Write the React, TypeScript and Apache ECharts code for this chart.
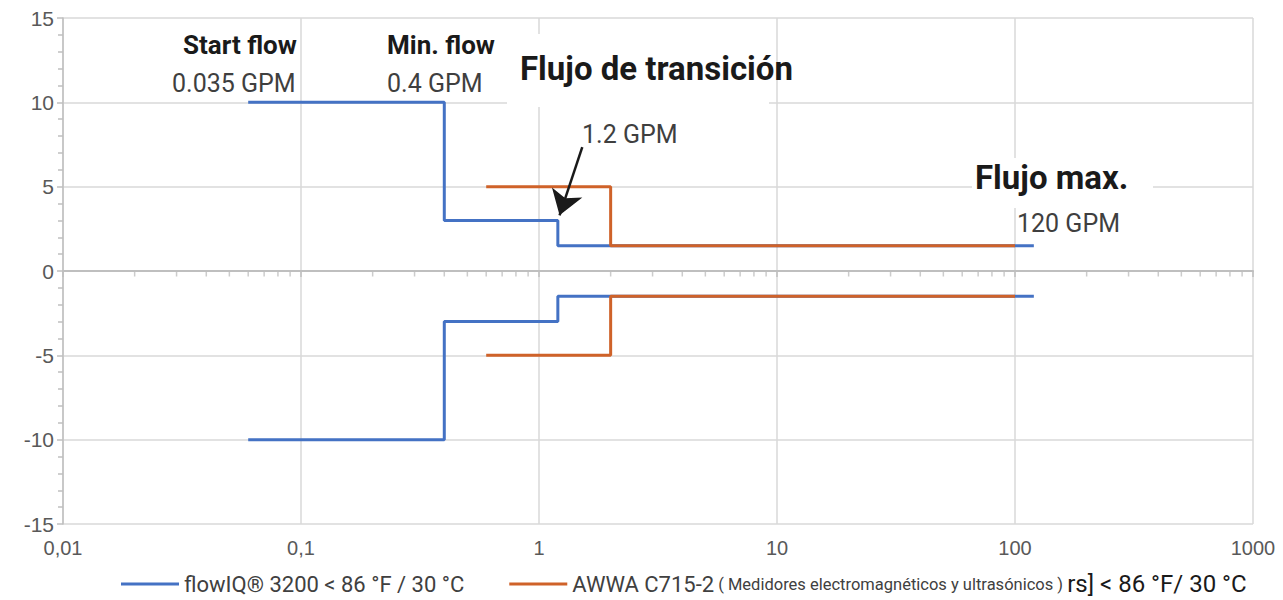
import React, { useEffect, useRef } from "react";
import * as echarts from "echarts";

// ---- data ----
const seriesNames = ["flowIQ® 3200 < 86 °F / 30 °C", "AWWA C715-2"];
const awwaLegendParts = ["AWWA C715-2", " ( Medidores electromagnéticos y ultrasónicos ) ", "rs] < 86 °F/ 30 °C"];

const flowIQUpper: [number, number][] = [[0.06, 10], [0.4, 3], [1.2, 1.5], [120, 1.5]];
const flowIQLower: [number, number][] = [[0.06, -10], [0.4, -3], [1.2, -1.5], [120, -1.5]];
const awwaUpper: [number, number][] = [[0.6, 5], [2, 1.5], [100, 1.5]];
const awwaLower: [number, number][] = [[0.6, -5], [2, -1.5], [100, -1.5]];

const arrowCoords: [number, number][] = [[1.52, 7.35], [1.22, 3.3]];

const minorTickValues = [
  0.02, 0.03, 0.04, 0.05, 0.06, 0.07, 0.08, 0.09,
  0.2, 0.3, 0.4, 0.5, 0.6, 0.7, 0.8, 0.9,
  2, 3, 4, 5, 6, 7, 8, 9,
  20, 30, 40, 50, 60, 70, 80, 90,
  200, 300, 400, 500, 600, 700, 800, 900,
];

const annotations = [
  { text: "Start flow", x: 183, y: 45, bold: true, size: 26 },
  { text: "0.035 GPM", x: 172, y: 83, bold: false, size: 25 },
  { text: "Min. flow", x: 387, y: 45, bold: true, size: 26 },
  { text: "0.4 GPM", x: 387, y: 83, bold: false, size: 25 },
  { text: "Flujo de transición", x: 520, y: 68, bold: true, size: 33 },
  { text: "1.2 GPM", x: 582, y: 134, bold: false, size: 25 },
  { text: "Flujo max.", x: 975, y: 177, bold: true, size: 33 },
  { text: "120 GPM", x: 1017, y: 223, bold: false, size: 25 },
];

const BLUE = "#4472C4";
const ORANGE = "#CF6229";
const GRID = "#D9D9D9";
const AXIS = "#BFBFBF";
const LABEL = "#595959";

export default function App() {
  const ref = useRef<HTMLDivElement>(null);

  useEffect(() => {
    if (!ref.current) return;
    const chart = echarts.init(ref.current, undefined, { renderer: "svg" });

    const lineSeries = (name: string, data: [number, number][], color: string) => ({
      type: "line",
      name,
      data,
      step: "end",
      showSymbol: false,
      symbol: "none",
      lineStyle: { color, width: 3 },
      itemStyle: { color },
      z: 3,
    });

    const graphics: any[] = [
      { type: "rect", shape: { x: 507, y: 34, width: 262, height: 73 }, style: { fill: "#fff" }, z: 50 },
      { type: "rect", shape: { x: 972, y: 158, width: 181, height: 50 }, style: { fill: "#fff" }, z: 50 },
      ...annotations.map((a) => ({
        type: "text",
        x: a.x,
        y: a.y,
        z: 60,
        style: {
          text: a.text,
          fill: a.bold ? "#1a1a1a" : "#3f3f3f",
          font: `${a.bold ? "bold " : ""}${a.size}px "Roboto"`,
          textAlign: "left",
          textVerticalAlign: "middle",
        },
      })),
    ];

    chart.setOption({
      animation: false,
      backgroundColor: "#fff",
      grid: { left: 63, right: 30, top: 18, bottom: 76 },
      legend: {
        data: seriesNames,
        left: 121,
        top: 572,
        padding: 0,
        icon: "rect",
        itemWidth: 58,
        itemHeight: 3,
        itemGap: 45,
        selectedMode: false,
        textStyle: {
          color: "#404040",
          fontFamily: "Roboto",
          fontSize: 22,
          rich: {
            a: { fontFamily: "Roboto", fontSize: 22, color: "#404040" },
            m: { fontFamily: "Roboto", fontSize: 16.5, color: "#404040" },
            c: { fontFamily: "Roboto", fontSize: 24, color: "#1a1a1a" },
          },
        },
        formatter: (name: string) =>
          name === seriesNames[1]
            ? `{a|${awwaLegendParts[0]}}{m|${awwaLegendParts[1]}}{c|${awwaLegendParts[2]}}`
            : `{a|${name}}`,
      },
      xAxis: [
        {
          type: "log",
          logBase: 10,
          min: 0.01,
          max: 1000,
          position: "bottom",
          axisLine: { show: false, onZero: false },
          axisTick: { show: false },
          axisLabel: {
            color: LABEL,
            fontSize: 20,
            fontFamily: "Liberation Sans",
            margin: 14,
            formatter: (v: number) => String(v).replace(".", ","),
          },
          splitLine: { show: true, lineStyle: { color: GRID, width: 1.5 } },
        },
        {
          type: "log",
          logBase: 10,
          min: 0.01,
          max: 1000,
          position: "bottom",
          axisLine: { show: true, onZero: true, lineStyle: { color: AXIS, width: 2 } },
          axisTick: { show: true, length: 6, lineStyle: { color: AXIS, width: 1.5 } },
          axisLabel: { show: false },
          splitLine: { show: false },
        },
      ],
      yAxis: {
        type: "value",
        min: -15,
        max: 15,
        interval: 5,
        axisLine: { show: true, lineStyle: { color: AXIS, width: 1.5 } },
        axisTick: { show: true, length: 6, lineStyle: { color: AXIS, width: 1.5 } },
        minorTick: { show: true, splitNumber: 5, length: 5, lineStyle: { color: AXIS, width: 1.5 } },
        axisLabel: { color: LABEL, fontSize: 21, fontFamily: "Liberation Sans", margin: 9 },
        splitLine: { show: true, lineStyle: { color: GRID, width: 1.5 } },
      },
      series: [
        lineSeries(seriesNames[0], flowIQUpper, BLUE),
        lineSeries(seriesNames[0], flowIQLower, BLUE),
        lineSeries(seriesNames[1], awwaUpper, ORANGE),
        lineSeries(seriesNames[1], awwaLower, ORANGE),
        {
          type: "scatter",
          xAxisIndex: 1,
          data: minorTickValues.map((v) => [v, 0]),
          symbol: "rect",
          symbolSize: [1.5, 5],
          symbolOffset: [0, 3],
          itemStyle: { color: AXIS },
          silent: true,
          z: 1,
        },
        {
          type: "lines",
          coordinateSystem: "cartesian2d",
          polyline: false,
          symbol: ["none", "arrow"],
          symbolSize: 24,
          lineStyle: { color: "#1a1a1a", width: 2.5, opacity: 1, curveness: 0 },
          data: [{ coords: arrowCoords }],
          silent: true,
          z: 4,
        },
      ],
      graphic: graphics,
    });

    return () => chart.dispose();
  }, []);

  return <div ref={ref} style={{ position: "fixed", left: 0, top: 0, width: 1283, height: 600 }} />;
}
